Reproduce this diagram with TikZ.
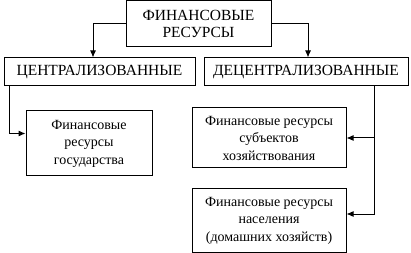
\documentclass[tikz,border=0pt]{standalone}
\usepackage{fontspec}
\setmainfont{Liberation Serif}
\usetikzlibrary{arrows.meta}
\begin{document}
\begin{tikzpicture}[x=1pt,y=-1pt,
  box/.style={draw,line width=1pt,align=center,inner sep=0pt,font=\fontsize{15.5}{17}\selectfont},
  sbox/.style={box,font=\fontsize{14}{17.5}\selectfont},
  arr/.style={line width=1pt,-{Latex[length=7pt,width=6pt]}},
  ln/.style={line width=1pt}]
\useasboundingbox (0,0) rectangle (411,253);
\node[box,minimum width=145pt,minimum height=46pt] (top) at (198.5,24) {ФИНАНСОВЫЕ\\РЕСУРСЫ};
\node[box,minimum width=191pt,minimum height=28pt] (cen) at (99.5,72) {ЦЕНТРАЛИЗОВАННЫЕ};
\node[box,minimum width=204pt,minimum height=28pt] (dec) at (306,72) {ДЕЦЕНТРАЛИЗОВАННЫЕ};
\node[sbox,minimum width=126pt,minimum height=65pt] (gos) at (89,143.5) {Финансовые\\ресурсы\\государства};
\node[sbox,minimum width=154pt,minimum height=60pt] (sub) at (269,138) {Финансовые ресурсы\\субъектов\\хозяйствования};
\node[sbox,minimum width=154pt,minimum height=63pt] (nas) at (269,220.5) {Финансовые ресурсы\\населения\\(домашних хозяйств)};
\draw[arr] (top.west) -| ([xshift=-6.5pt]cen.north);
\draw[arr] (top.east) -| ([xshift=2pt]dec.north);
\draw[arr] ([xshift=6pt]cen.south west) |- ([yshift=10pt]gos.west);
\coordinate (rb) at ([xshift=-34pt]dec.south east);
\coordinate (rn) at ([yshift=6.5pt]rb |- nas.east);
\draw[ln] (rb) -- (rn);
\draw[arr] (rb |- sub.east) -- (sub.east);
\draw[arr] (rn) -- ([yshift=6.5pt]nas.east);
\end{tikzpicture}
\end{document}
